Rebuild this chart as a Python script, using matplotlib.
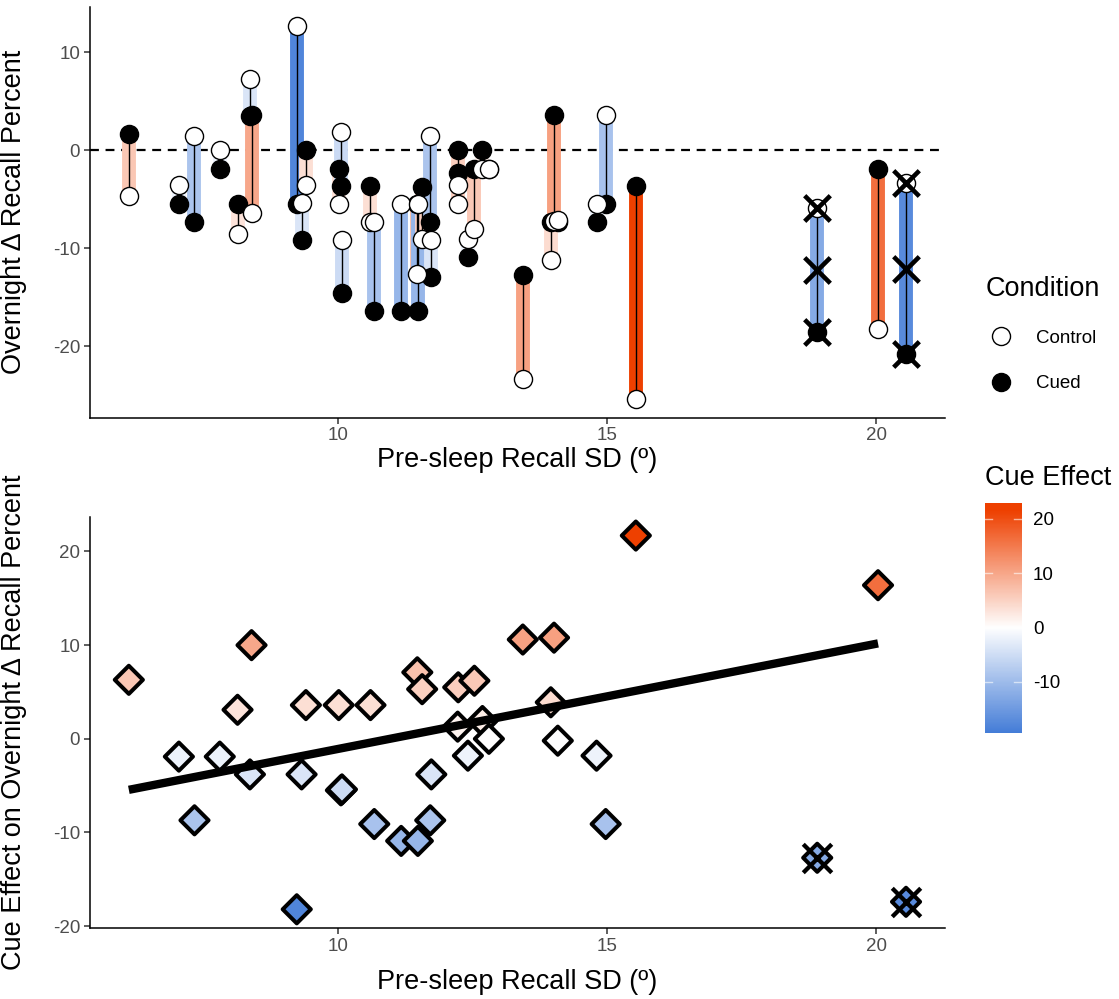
import numpy as np
import matplotlib
matplotlib.use("Agg")
import matplotlib.pyplot as plt
from matplotlib.colors import LinearSegmentedColormap, Normalize
from matplotlib.lines import Line2D

plt.rcParams['font.family'] = ['Liberation Sans', 'DejaVu Sans']
plt.rcParams['axes.unicode_minus'] = False

# one entry per participant
pre_sleep_sd = [6.11, 7.04, 7.33, 7.80, 8.13, 8.36, 8.39, 9.23, 9.32, 9.40,
                10.01, 10.05, 10.07, 10.60, 10.67, 11.17, 11.47, 11.48, 11.56, 11.71,
                11.73, 12.22, 12.23, 12.41, 12.53, 12.68, 12.80, 13.43, 13.95, 14.01,
                14.08, 14.80, 14.97, 15.53, 18.90, 20.03, 20.55]
control = [-4.7, -3.6, 1.4, 0.0, -8.6, 7.3, -6.4, 12.7, -5.4, -3.6,
           -5.5, 1.8, -9.2, -7.3, -7.3, -5.5, -12.6, -5.5, -9.1, 1.4,
           -9.2, -3.6, -5.5, -9.1, -8.1, -1.9, -1.9, -23.4, -11.2, -7.2,
           -7.1, -5.5, 3.6, -25.4, -5.9, -18.3, -3.4]
cued = [1.6, -5.5, -7.3, -1.9, -5.5, 3.5, 3.6, -5.5, -9.2, 0.0,
        -1.9, -3.7, -14.6, -3.7, -16.4, -16.4, -5.5, -16.4, -3.8, -7.3,
        -13.0, -2.3, 0.0, -10.9, -1.9, 0.0, -1.9, -12.8, -7.3, 3.6,
        -7.3, -7.3, -5.5, -3.7, -18.6, -1.9, -20.8]
excluded = [False] * 34 + [True, False, True]

sd = np.array(pre_sleep_sd)
ctrl = np.array(control)
cue = np.array(cued)
ex = np.array(excluded)
effect = cue - ctrl

cmap = LinearSegmentedColormap.from_list("cue", ["#2F6ED3", "#FFFFFF", "#EE4000"])
lim = np.abs(effect).max()
norm = Normalize(-lim, lim)

fig = plt.figure(figsize=(11.19, 9.99), dpi=100)
ax1 = fig.add_axes([0.0804, 0.582, 0.764, 0.411])
ax2 = fig.add_axes([0.0804, 0.0711, 0.764, 0.4115])
cax = fig.add_axes([0.880, 0.2663, 0.033, 0.230])

# top: control vs cued per participant
ax1.axhline(0, color='black', ls=(0, (4, 3)), lw=1.6, zorder=1)
for i in range(len(sd)):
    ax1.plot([sd[i], sd[i]], [ctrl[i], cue[i]], color=cmap(norm(effect[i])),
             lw=10, solid_capstyle='butt', zorder=2)
    ax1.plot([sd[i], sd[i]], [ctrl[i], cue[i]], color='black', lw=1, zorder=3)
ax1.scatter(sd, cue, s=170, c='black', edgecolors='black', linewidths=1, zorder=4)
ax1.scatter(sd, ctrl, s=170, c='white', edgecolors='black', linewidths=1, zorder=4)
mid = (ctrl + cue) / 2
for yy in (ctrl, mid, cue):
    ax1.scatter(sd[ex], yy[ex], marker='x', s=340, c='black', linewidths=3.3, zorder=5)

# bottom: cue effect
ax2.scatter(sd, effect, marker='D', s=205, c=effect, cmap=cmap, norm=norm,
            edgecolors='black', linewidths=2.9, zorder=3)
ax2.scatter(sd[ex], effect[ex], marker='x', s=420, c='black', linewidths=3.1, zorder=5)
fit = np.polyfit(sd[~ex], effect[~ex], 1)
xs = np.array([sd[~ex].min(), sd[~ex].max()])
ax2.plot(xs, np.polyval(fit, xs), color='black', lw=6, solid_capstyle='butt', zorder=4)

for ax in (ax1, ax2):
    ax.spines[['top', 'right']].set_visible(False)
    ax.spines[['left', 'bottom']].set_linewidth(1.1)
    ax.tick_params(direction='out', length=4, width=1.1, color='#333333',
                   labelsize=13.5, labelcolor='#4D4D4D', pad=3)
    ax.set_xticks([10, 15, 20])
    ax.margins(0.05)
    ax.set_xlabel('Pre-sleep Recall SD (º)', fontsize=19.5)
ax1.set_yticks([-20, -10, 0, 10])
ax2.set_yticks([-20, -10, 0, 10, 20])
ax1.set_ylabel('Overnight Δ Recall Percent', fontsize=19.5)
ax2.set_ylabel('Cue Effect on Overnight Δ Recall Percent', fontsize=19.5)
for ax in (ax1, ax2):
    ax.yaxis.set_label_coords(-0.074, 0.5)
ax1.xaxis.set_label_coords(0.5, -0.072)
ax2.xaxis.set_label_coords(0.5, -0.10)

# legend for condition
handles = [Line2D([], [], ls='none', marker='o', ms=13, mfc='white', mec='black', mew=1),
           Line2D([], [], ls='none', marker='o', ms=13, mfc='black', mec='black', mew=1)]
fig.legend(handles, ['Control', 'Cued'], title='Condition', loc='upper left',
           bbox_to_anchor=(0.866, 0.741), frameon=False, fontsize=13.5,
           title_fontsize=19.5, labelspacing=1.5, handletextpad=1.05,
           handlelength=1.6, alignment='left')

# colour bar
pad = 0.03 * (effect.max() - effect.min())
lo, hi = effect.min() - pad, effect.max() + pad
grad = np.linspace(lo, hi, 300).reshape(-1, 1)
cax.imshow(grad, cmap=cmap, norm=norm, aspect='auto', origin='lower', extent=[0, 1, lo, hi])
cax.set_xlim(0, 1)
cax.set_ylim(lo, hi)
cax.set_xticks([])
cax.yaxis.tick_right()
cax.set_yticks([-10, 0, 10, 20])
cax.tick_params(axis='y', length=0, labelsize=13.5, pad=8)
for t in [-10, 0, 10, 20]:
    cax.plot([0, 0.2], [t, t], color='white', lw=1, alpha=0.6)
    cax.plot([0.8, 1], [t, t], color='white', lw=1, alpha=0.6)
for s in cax.spines.values():
    s.set_visible(False)
fig.text(0.880, 1 - 478 / 999, 'Cue Effect', fontsize=19.5, va='center', ha='left')

fig.savefig('out.png', dpi=100)
